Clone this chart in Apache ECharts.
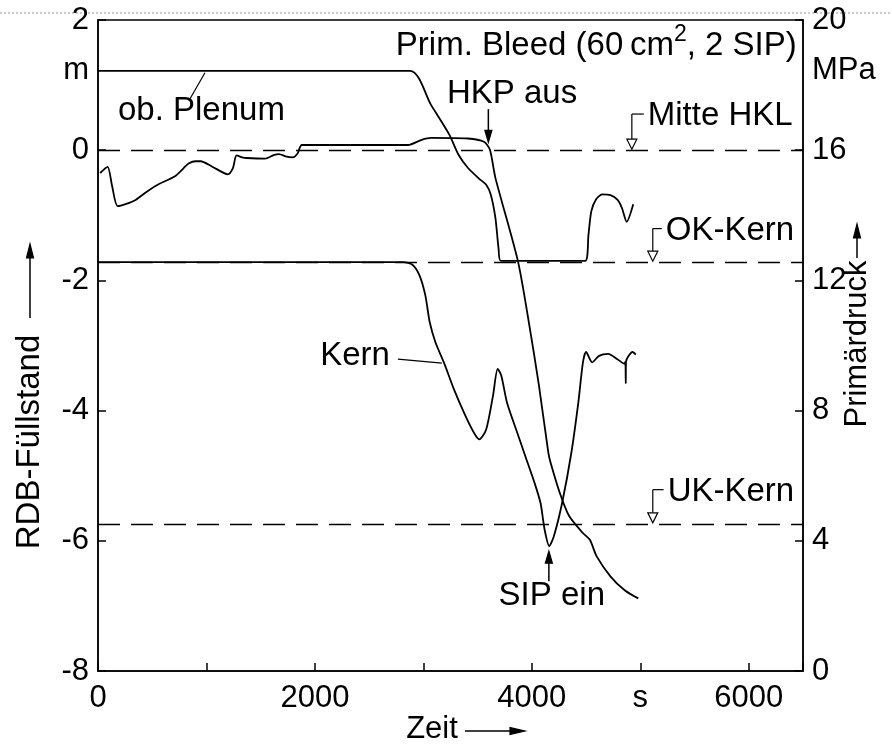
<!DOCTYPE html>
<html><head><meta charset="utf-8">
<script src="https://cdn.jsdelivr.net/npm/echarts@6/dist/echarts.min.js"></script>
<style>html,body{margin:0;padding:0;background:#fff}#c{width:892px;height:745px}</style>
</head><body><div id="c"></div>
<script>
// ---- data (time in s, levels in m, pressure in MPa) ----
const plenumTime  = [0, 2878, 3069, 3239, 3324, 3410, 3515, 3579, 3621, 3664, 3693, 3714, 4492, 4522, 4548, 4590, 4649, 4725, 4789, 4831, 4874, 4935];
const plenumLevel = [1.22, 1.22, 0.70, 0.24, -0.07, -0.27, -0.44, -0.53, -0.68, -1.04, -1.51, -1.70, -1.70, -1.30, -0.94, -0.76, -0.68, -0.69, -0.76, -0.89, -1.10, -0.83];

const kernTime  = [0, 2815, 2899, 2963, 3018, 3058, 3111, 3189, 3281, 3388, 3473, 3515, 3579, 3642, 3685, 3718, 3770, 3855, 3940, 4025, 4080, 4118, 4160, 4203, 4279, 4365, 4429, 4471, 4500, 4556, 4619, 4704, 4789, 4853, 4862, 4866, 4868, 4929, 4958];
const kernLevel = [-1.72, -1.72, -1.76, -1.92, -2.23, -2.64, -2.95, -3.26, -3.67, -4.08, -4.36, -4.44, -4.29, -3.77, -3.36, -3.46, -3.87, -4.29, -4.70, -5.11, -5.42, -5.83, -6.08, -5.93, -5.42, -4.64, -3.87, -3.26, -3.10, -3.26, -3.16, -3.13, -3.21, -3.28, -3.25, -3.58, -3.25, -3.10, -3.14];

const pressTime = [20, 88, 130, 181, 260, 350, 460, 562, 710, 790, 839, 900, 946, 1050, 1198, 1245, 1277, 1330, 1370, 1540, 1620, 1668, 1740, 1795, 1840, 1880, 2857, 2984, 3069, 3410, 3558, 3613, 3664, 3871, 3972, 4065, 4152, 4173, 4258, 4344, 4470, 4535, 4598, 4726, 4853, 4981];
const pressure  = [15.30, 15.49, 14.90, 14.28, 14.35, 14.48, 14.75, 14.96, 15.20, 15.45, 15.60, 15.66, 15.66, 15.50, 15.26, 15.46, 15.84, 15.78, 15.76, 15.74, 15.85, 15.88, 15.80, 15.78, 15.90, 16.16, 16.16, 16.32, 16.38, 16.36, 16.26, 16.02, 15.15, 12.60, 10.72, 8.78, 6.71, 6.40, 5.47, 4.76, 4.24, 4.03, 3.52, 2.90, 2.49, 2.23];

const refNames  = ['Mitte HKL', 'OK-Kern', 'UK-Kern'];
const refLevels = [0, -1.72, -5.74];

const xTickLabels = {0: '0', 2000: '2000', 4000: '4000', 5000: 's', 6000: '6000'};
// -----------------------------------------------------------

const FONT = '"Liberation Sans", Arial, sans-serif';
const FS = 31;   // tick labels
const FA = 33;   // annotations
const pair = (a, b) => a.map((t, i) => [t, b[i]]);

const chart = echarts.init(document.getElementById('c'), null, {renderer: 'canvas'});
const axisCommon = {
  axisLine: {show: true, onZero: false, lineStyle: {color: '#000', width: 1.5}},
  axisTick: {show: true, inside: true, length: 8, lineStyle: {color: '#000', width: 1.5}},
  splitLine: {show: false},
  axisLabel: {color: '#000', fontSize: FS, fontFamily: FONT}
};
chart.setOption({
  animation: false,
  backgroundColor: '#fff',
  grid: {left: 98, right: 89, top: 20, bottom: 74, show: true, borderColor: '#000', borderWidth: 1.5, backgroundColor: 'transparent'},
  xAxis: Object.assign({}, axisCommon, {
    type: 'value', min: 0, max: 6500, interval: 1000,
    axisLabel: Object.assign({}, axisCommon.axisLabel, {margin: 12, formatter: v => xTickLabels[v] !== undefined ? xTickLabels[v] : ''})
  }),
  yAxis: [
    Object.assign({}, axisCommon, {type: 'value', min: -8, max: 2, interval: 2, position: 'left',
      axisLabel: Object.assign({}, axisCommon.axisLabel, {margin: 9, formatter: v => String(v)})}),
    Object.assign({}, axisCommon, {type: 'value', min: 0, max: 20, interval: 4, position: 'right',
      axisLabel: Object.assign({}, axisCommon.axisLabel, {margin: 9})})
  ],
  series: [
    {type: 'line', name: 'ob. Plenum', data: pair(plenumTime, plenumLevel), yAxisIndex: 0, showSymbol: false, smooth: 0.25,
      lineStyle: {color: '#000', width: 1.8},
      markLine: {silent: true, symbol: 'none', label: {show: false},
        lineStyle: {color: '#000', width: 1.3, type: [22, 11]},
        data: refLevels.map((v, i) => ({name: refNames[i], yAxis: v}))}},
    {type: 'line', name: 'Kern', data: pair(kernTime, kernLevel), yAxisIndex: 0, showSymbol: false, smooth: 0.25,
      lineStyle: {color: '#000', width: 1.8}},
    {type: 'line', name: 'Primärdruck', data: pair(pressTime, pressure), yAxisIndex: 1, showSymbol: false, smooth: 0.25,
      lineStyle: {color: '#000', width: 1.8}}
  ]
});

// ---- annotations ----
const P = (t, v) => chart.convertToPixel({xAxisIndex: 0, yAxisIndex: 0}, [t, v]);
const mctx = document.createElement('canvas').getContext('2d');
const tw = (s, fs) => { mctx.font = fs + 'px ' + FONT; return mctx.measureText(s).width; };
const g = [];
const txt = (s, x, y, align, fs, rot) => g.push({type: 'text', x: x, y: y, rotation: rot || 0,
  style: {text: s, fill: '#000', fontSize: fs || FA, fontFamily: FONT, align: align || 'left', verticalAlign: 'middle'}});
const line = (x1, y1, x2, y2, w) => g.push({type: 'line', shape: {x1, y1, x2, y2}, style: {stroke: '#000', lineWidth: w || 1.5}});
const tri = (pts, filled) => g.push({type: 'polygon', shape: {points: pts}, style: {fill: filled ? '#000' : '#fff', stroke: '#000', lineWidth: 1.2}});

// title
{
  const [xr, yc] = P(6442, 1.60);
  const a = 'Prim. Bleed (60\u2009cm', b = '2', c = ', 2 SIP)';
  const wa = tw(a, FA), wb = tw(b, 23), wc = tw(c, FA);
  const x0 = xr - wa - wb - wc;
  txt(a, x0, yc, 'left');
  txt(b, x0 + wa, yc - 11, 'left', 23);
  txt(c, x0 + wa + wb, yc, 'left');
}
// ob. Plenum
{
  const [x, y] = P(184, 0.60); txt('ob. Plenum', x, y);
  const [a1, b1] = P(838, 0.76), [a2, b2] = P(986, 1.19); line(a1, b1, a2, b2, 1.2);
}
// HKP aus
{
  const [x, y] = P(3217, 0.86); txt('HKP aus', x, y);
  const [ax, ay1] = P(3599, 0.63), [, ay2] = P(3599, 0.12);
  line(ax, ay1, ax, ay2 - 10, 1.5);
  tri([[ax - 3.5, ay2 - 12], [ax + 3.5, ay2 - 12], [ax, ay2]], true);
}
// reference-level markers
const markers = [
  {name: refNames[0], level: refLevels[0], t: 4922, ty: 0.54, tx: 5069},
  {name: refNames[1], level: refLevels[1], t: 5115, ty: -1.22, tx: 5235},
  {name: refNames[2], level: refLevels[2], t: 5115, ty: -5.23, tx: 5252}
];
markers.forEach(m => {
  const [x, yl] = P(m.t, m.level);
  const [xt, yt] = P(m.tx, m.ty);
  txt(m.name, xt, yt + 1);
  line(xt - 4, yt - 1, x, yt - 1, 1.2);
  line(x, yt - 1, x, yl - 11, 1.2);
  tri([[x - 5, yl - 11], [x + 5, yl - 11], [x, yl - 1]], false);
});
// Kern
{
  const [x, y] = P(2691, -3.16); txt('Kern', x, y, 'right');
  const [a1, b1] = P(2765, -3.21), [a2, b2] = P(3170, -3.27); line(a1, b1, a2, b2, 1.2);
}
// SIP ein
{
  const [x, y] = P(4184, -6.85); txt('SIP ein', x, y, 'center');
  const [ax, ay1] = P(4157, -6.62), [, ay2] = P(4157, -6.16);
  line(ax, ay1, ax, ay2 + 10, 1.5);
  tri([[ax - 3.5, ay2 + 12], [ax + 3.5, ay2 + 12], [ax, ay2]], true);
}
// units
{
  const [, ym] = P(0, 1.22);
  txt('m', 89, ym, 'right', FS);
  txt('MPa', 812, ym, 'left', FS);
}
// axis names with arrows
txt('RDB-Füllstand', 30, 442, 'center', FA, Math.PI / 2);
line(30, 318, 30, 256, 1.5); tri([[26.5, 258], [33.5, 258], [30, 244]], true);
txt('Primärdruck', 857, 344, 'center', FS, Math.PI / 2);
line(857, 258, 857, 236, 1.5); tri([[853.5, 238], [860.5, 238], [857, 224]], true);
txt('Zeit', 432, 729, 'center', FS);
line(465, 731, 512, 731, 1.5); tri([[510, 727.5], [510, 734.5], [525, 731]], true);
// scan border artefact at the top
g.push({type: 'line', shape: {x1: 0, y1: 13, x2: 892, y2: 13}, style: {stroke: '#999', lineWidth: 1, lineDash: [2, 2]}, z: -1});

chart.setOption({graphic: g});
</script></body></html>
